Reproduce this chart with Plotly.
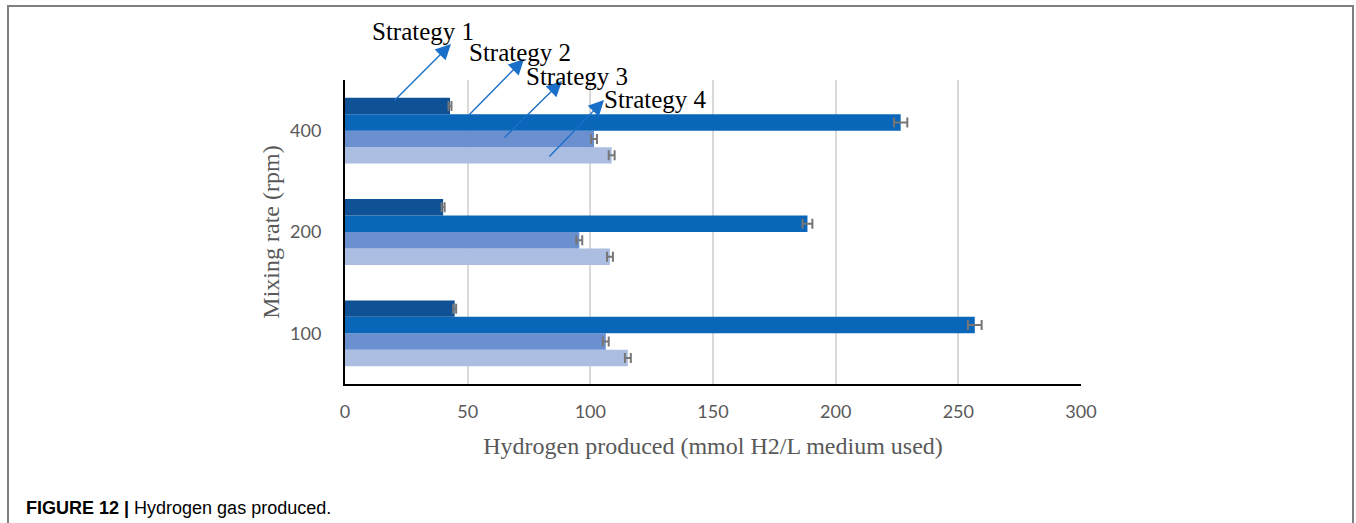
import plotly.graph_objects as go

# ---- data ----
categories = ["100", "200", "400"]
strategy_names = ["Strategy 1", "Strategy 2", "Strategy 3", "Strategy 4"]
strategy1 = [44.7, 40.0, 42.8]
strategy2 = [256.7, 188.5, 226.5]
strategy3 = [106.3, 95.5, 101.5]
strategy4 = [115.3, 108.0, 108.7]
err1 = [0.6, 0.6, 0.6]
err2 = [2.8, 2.0, 2.7]
err3 = [1.2, 1.2, 1.2]
err4 = [1.2, 1.2, 1.2]
x_ticks = [0, 50, 100, 150, 200, 250, 300]
x_title = "Hydrogen produced (mmol H2/L medium used)"
y_title = "Mixing rate (rpm)"
caption_bold = "FIGURE 12 |"
caption_text = " Hydrogen gas produced."

colors = ["#0E5195", "#0966B8", "#6B90CF", "#ABBDE0"]
series = [strategy1, strategy2, strategy3, strategy4]
errors = [err1, err2, err3, err4]

W, H = 1356, 523
L, R, T, B = 345, 1081, 80, 384


def px(xp):
    return (xp - L) / (R - L)


def py(yp):
    return (B - yp) / (B - T)


fig = go.Figure()
for i in reversed(range(4)):
    fig.add_trace(go.Bar(
        y=categories, x=series[i], name=strategy_names[i], orientation="h",
        marker=dict(color=colors[i], line=dict(width=0)),
        error_x=dict(type="data", array=errors[i], color="#767676", thickness=2, width=5),
        showlegend=False,
    ))

annotations = []
# strategy labels
label_pos = [(423, 32), (520, 53), (577, 77), (655, 99)]
arrows = [((451, 44), (393, 102)), ((524, 59), (468, 116)),
          ((562, 81), (503, 139)), ((604, 100), (548, 158))]
for name, (lx, ly), (head, tail) in zip(strategy_names, label_pos, arrows):
    annotations.append(dict(
        x=px(head[0]), y=py(head[1]), xref="paper", yref="paper",
        ax=tail[0] - head[0], ay=tail[1] - head[1], text="", showarrow=True,
        arrowhead=2, arrowsize=2.2, arrowwidth=1.4, arrowcolor="#1A6FC9",
    ))
for name, (lx, ly) in zip(strategy_names, label_pos):
    annotations.append(dict(
        x=px(lx), y=py(ly), xref="paper", yref="paper", text=name, showarrow=False,
        xanchor="center", yanchor="middle",
        font=dict(family="Liberation Serif", size=25, color="black"),
    ))
annotations.append(dict(
    x=px(24), y=py(508), xref="paper", yref="paper", showarrow=False,
    xanchor="left", yanchor="middle",
    text="<b>" + caption_bold + "</b>" + caption_text,
    font=dict(family="Liberation Sans", size=18, color="black"),
))

fig.update_layout(
    width=W, height=H,
    margin=dict(l=L, r=W - R, t=T, b=H - B, pad=0),
    paper_bgcolor="white", plot_bgcolor="white",
    barmode="group", bargap=0.35, bargroupgap=0,
    annotations=annotations,
    shapes=[dict(type="rect", xref="paper", yref="paper",
                 x0=px(8), x1=px(1353), y0=py(560), y1=py(6),
                 line=dict(color="#7F7F7F", width=2), layer="below")],
    xaxis=dict(
        range=[0, 300], tickvals=x_ticks, showgrid=True, gridcolor="#D9D9D9", gridwidth=1.5,
        showline=True, linecolor="black", linewidth=2, zeroline=False,
        ticks="", ticklabelstandoff=10,
        tickfont=dict(family="Lato", size=18, color="#595959"),
        title=dict(text=x_title, standoff=17,
                   font=dict(family="Liberation Serif", size=24, color="#595959")),
    ),
    yaxis=dict(
        type="category", categoryorder="array", categoryarray=categories,
        range=[-0.5, 2.5], showgrid=False,
        showline=True, linecolor="black", linewidth=2, zeroline=False,
        ticks="", ticklabelstandoff=18,
        tickfont=dict(family="Lato", size=18, color="#595959"),
        title=dict(text=y_title, standoff=4,
                   font=dict(family="Liberation Serif", size=24, color="#595959")),
    ),
)

fig.write_html("out.html", config={"displayModeBar": False},
               post_script="document.body.style.margin='0';document.body.style.overflow='hidden';")
